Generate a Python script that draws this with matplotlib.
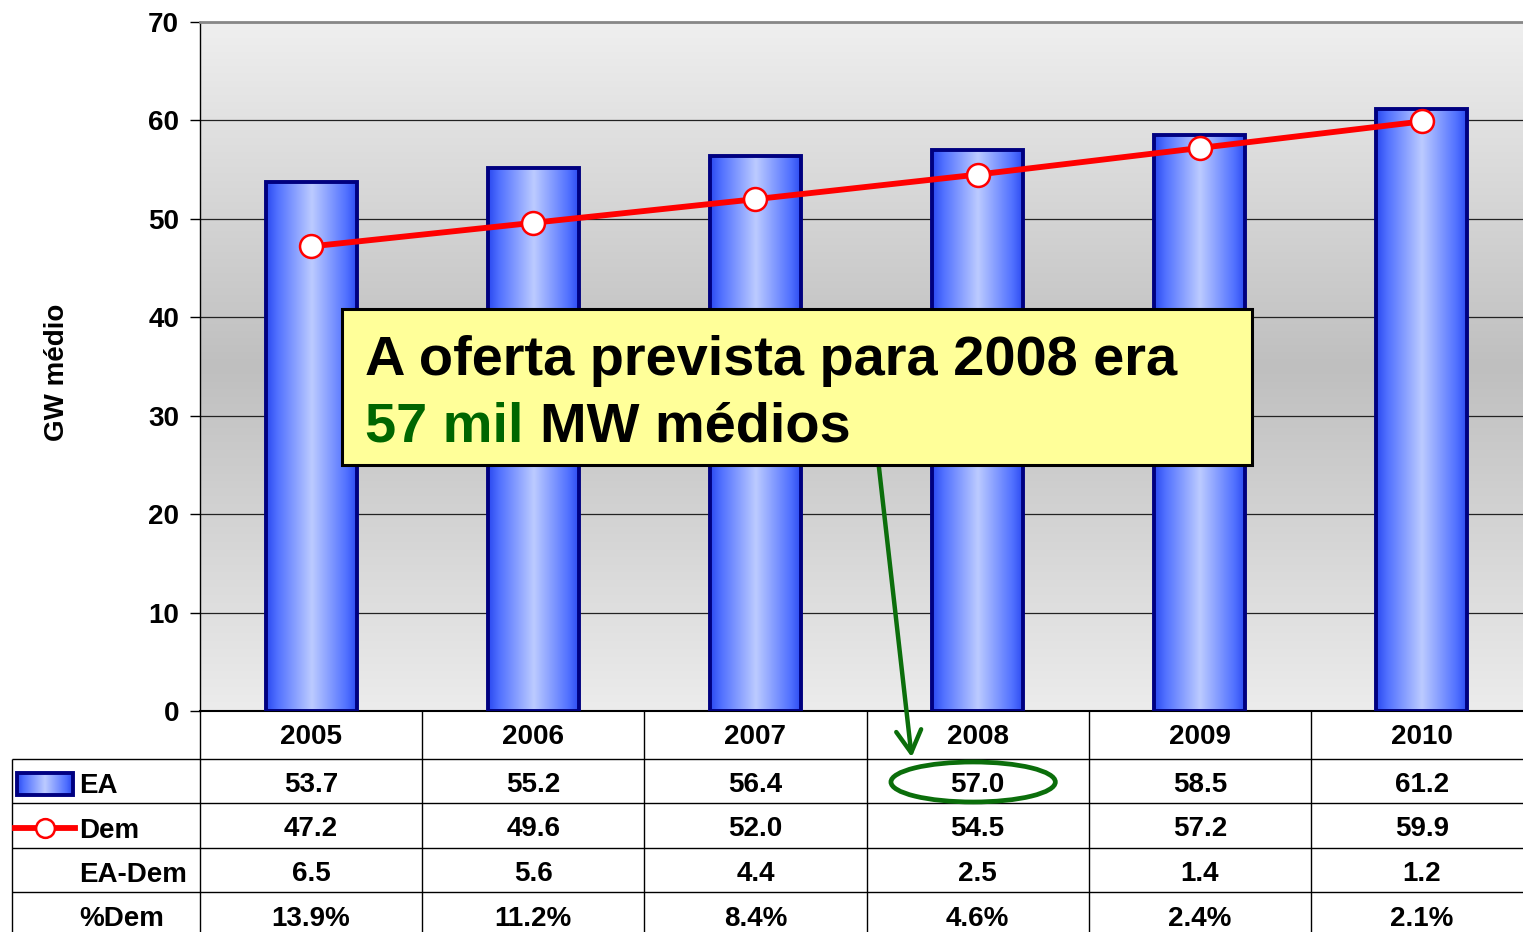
import numpy as np
import matplotlib
matplotlib.use('Agg')
import matplotlib.pyplot as plt
from matplotlib.colors import LinearSegmentedColormap
from matplotlib.patches import Rectangle, Ellipse, FancyArrowPatch

plt.rcParams['font.family'] = ['Liberation Sans', 'DejaVu Sans']
plt.rcParams['font.weight'] = 'bold'

#data
years = ['2005', '2006', '2007', '2008', '2009', '2010']
ea = [53.7, 55.2, 56.4, 57.0, 58.5, 61.2]
dem = [47.2, 49.6, 52.0, 54.5, 57.2, 59.9]
ea_dem = ['6.5', '5.6', '4.4', '2.5', '1.4', '1.2']
pct_dem = ['13.9%', '11.2%', '8.4%', '4.6%', '2.4%', '2.1%']
yticks = [0, 10, 20, 30, 40, 50, 60, 70]

W, H = 1523, 932
def px(x0, y0, x1, y1):
    #pixel box -> figure fraction rect
    return [x0 / W, 1 - y1 / H, (x1 - x0) / W, (y1 - y0) / H]

navy = '#000080'
green = '#0b6e0b'
fs = 20

bar_cmap = LinearSegmentedColormap.from_list(
    'bar', [(0, '#2a48f0'), (0.12, '#5070ff'), (0.5, '#bccbff'), (0.88, '#5070ff'), (1, '#2a48f0')])
bg_cmap = LinearSegmentedColormap.from_list(
    'bg', [(0, '#ececec'), (0.5, '#bfbfbf'), (1, '#efefef')])

fig = plt.figure(figsize=(W / 100, H / 100), dpi=100)

#main chart
ax = fig.add_axes(px(200, 22, 1533, 711))
x = np.arange(len(years))

grad = np.linspace(0, 1, 256).reshape(-1, 1)
ax.imshow(grad, extent=(-0.5, 5.5, 0, 70), origin='lower', aspect='auto', cmap=bg_cmap, zorder=0)

bars = ax.bar(x, ea, width=0.41, facecolor='none', edgecolor=navy, linewidth=2.8, zorder=3)
hgrad = np.linspace(0, 1, 256).reshape(1, -1)
for b in bars:
    ax.imshow(hgrad, extent=(b.get_x(), b.get_x() + b.get_width(), 0, b.get_height()),
              aspect='auto', cmap=bar_cmap, zorder=2.5)

ax.plot(x, dem, color='red', lw=4.2, marker='o', ms=16.5, mfc='white', mec='red', mew=1.8, zorder=4)

ax.set_xlim(-0.5, 5.5)
ax.set_ylim(0, 70)
ax.set_yticks(yticks)
ax.set_xticks([])
ax.set_axisbelow(True)
ax.yaxis.grid(True, color='#222222', lw=0.9)
ax.tick_params(axis='y', length=7, width=1, pad=8, labelsize=fs)
ax.spines['right'].set_visible(False)
ax.spines['top'].set_color('#888888')
ax.spines['top'].set_linewidth(2)
ax.spines['left'].set_linewidth(1)
ax.spines['bottom'].set_linewidth(1.5)

fig.text(57 / W, 1 - 372 / H, 'GW médio', rotation=90, ha='center', va='center', fontsize=fs)

#data table
col_px = 1333 / 6
axt = fig.add_axes(px(0, 711, 1533, 937))
axt.axis('off')
xl = -0.5 - 200 / col_px
x12 = -0.5 - 188 / col_px
xlab = -0.5 - 121 / col_px
row_edges = [0, 48, 92, 137, 181, 226]
centers = [(row_edges[i] + row_edges[i + 1]) / 2 for i in range(5)]

axt.hlines(row_edges[1:5], x12, 5.5, color='black', lw=1)
axt.vlines([x12], row_edges[1], 226, color='black', lw=1)
axt.vlines(np.arange(-0.5, 5.0, 1.0), 0, 226, color='black', lw=1)

rows = [years, ['%.1f' % v for v in ea], ['%.1f' % v for v in dem], ea_dem, pct_dem]
for r, vals in enumerate(rows):
    dy = 2 if r == 0 else 4
    for i, t in enumerate(vals):
        axt.text(i, centers[r] + dy, t, ha='center', va='center', fontsize=fs)
for r, lab in zip([1, 2, 3, 4], ['EA', 'Dem', 'EA-Dem', '%Dem']):
    axt.text(xlab, centers[r] + 5, lab, ha='left', va='center', fontsize=fs)

#legend keys
kx0, kx1 = -0.5 - 183 / col_px, -0.5 - 127 / col_px
axt.imshow(hgrad, extent=(kx0, kx1, 84, 62), aspect='auto', cmap=bar_cmap, zorder=2)
axt.add_patch(Rectangle((kx0, 62), kx1 - kx0, 22, facecolor='none', edgecolor=navy, lw=2.8, zorder=3))
lx = np.array([-0.5 - 185 / col_px, -0.5 - 125 / col_px])
axt.plot(lx, [117, 117], color='red', lw=4.2, zorder=3)
axt.plot([lx.mean()], [117], marker='o', ms=13.5, mfc='white', mec='red', mew=1.8, zorder=4)

#highlight 2008 offer
i08 = years.index('2008')
axt.add_patch(Ellipse((i08 - 0.02, centers[1] + 1), 0.74, 40, facecolor='none', edgecolor=green, lw=3.4, zorder=5))

axt.set_xlim(xl, 5.5)
axt.set_ylim(226, 0)

#callout box
fig.add_artist(FancyArrowPatch((877 / W, 1 - 450 / H), (912 / W, 1 - 760 / H),
                               transform=fig.transFigure, arrowstyle='->,head_length=0.8,head_width=0.45',
                               mutation_scale=20, color=green, lw=3.2, zorder=6))
fig.add_artist(Rectangle((342 / W, 1 - 465 / H), 910 / W, 156 / H, transform=fig.transFigure,
                         facecolor='#ffff99', edgecolor='black', lw=2.2, zorder=7))
fig.text(365 / W, 1 - 375 / H, 'A oferta prevista para 2008 era', fontsize=40.3, va='baseline', zorder=8)
fig.text(365 / W, 1 - 442 / H, '57 mil', fontsize=40.3, color='#006600', va='baseline', zorder=8)
fig.text(540 / W, 1 - 442 / H, 'MW médios', fontsize=40.3, va='baseline', zorder=8)

plt.savefig('out.png', dpi=100)
